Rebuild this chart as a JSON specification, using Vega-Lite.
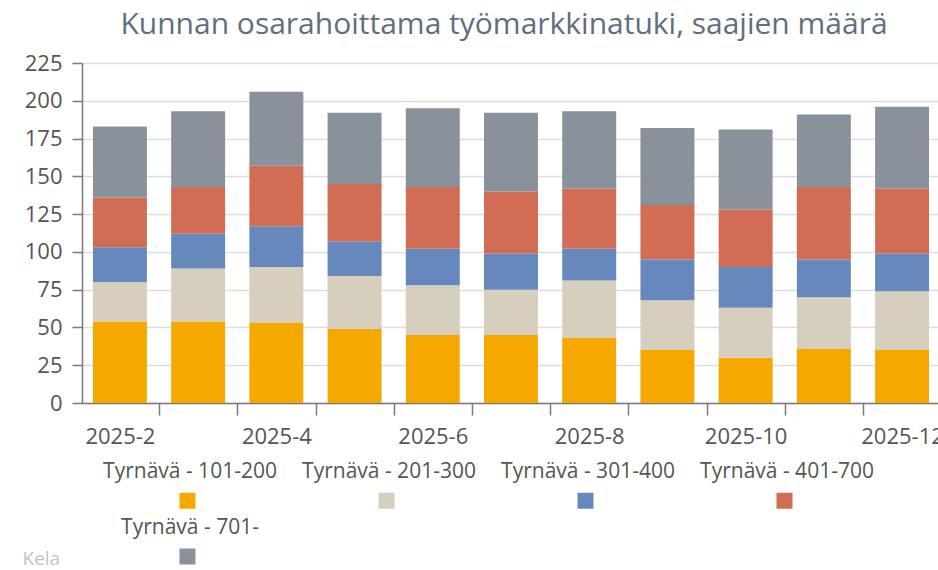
{
  "$schema": "https://vega.github.io/schema/vega-lite/v6.json",
  "autosize": "none",
  "width": 858,
  "height": 340,
  "padding": {"left": 82, "top": 63, "right": 0, "bottom": 167},
  "background": "#ffffff",
  "title": {
    "text": "Kunnan osarahoittama työmarkkinatuki, saajien määrä",
    "anchor": "middle",
    "font": "Open Sans",
    "fontSize": 30,
    "fontWeight": "normal",
    "color": "#5f6f7f",
    "offset": 12,
    "dx": -7
  },
  "config": {
    "view": {"stroke": null},
    "font": "Open Sans",
    "style": {"guide-label": {"lineHeight": 58}}
  },
  "data": {
    "values": [
      {"month": "2025-2", "series": "Tyrnävä - 101-200", "value": 54},
      {"month": "2025-2", "series": "Tyrnävä - 201-300", "value": 26},
      {"month": "2025-2", "series": "Tyrnävä - 301-400", "value": 23},
      {"month": "2025-2", "series": "Tyrnävä - 401-700", "value": 33},
      {"month": "2025-2", "series": "Tyrnävä - 701-", "value": 47},
      {"month": "2025-3", "series": "Tyrnävä - 101-200", "value": 54},
      {"month": "2025-3", "series": "Tyrnävä - 201-300", "value": 35},
      {"month": "2025-3", "series": "Tyrnävä - 301-400", "value": 23},
      {"month": "2025-3", "series": "Tyrnävä - 401-700", "value": 31},
      {"month": "2025-3", "series": "Tyrnävä - 701-", "value": 50},
      {"month": "2025-4", "series": "Tyrnävä - 101-200", "value": 53},
      {"month": "2025-4", "series": "Tyrnävä - 201-300", "value": 37},
      {"month": "2025-4", "series": "Tyrnävä - 301-400", "value": 27},
      {"month": "2025-4", "series": "Tyrnävä - 401-700", "value": 40},
      {"month": "2025-4", "series": "Tyrnävä - 701-", "value": 49},
      {"month": "2025-5", "series": "Tyrnävä - 101-200", "value": 49},
      {"month": "2025-5", "series": "Tyrnävä - 201-300", "value": 35},
      {"month": "2025-5", "series": "Tyrnävä - 301-400", "value": 23},
      {"month": "2025-5", "series": "Tyrnävä - 401-700", "value": 38},
      {"month": "2025-5", "series": "Tyrnävä - 701-", "value": 47},
      {"month": "2025-6", "series": "Tyrnävä - 101-200", "value": 45},
      {"month": "2025-6", "series": "Tyrnävä - 201-300", "value": 33},
      {"month": "2025-6", "series": "Tyrnävä - 301-400", "value": 24},
      {"month": "2025-6", "series": "Tyrnävä - 401-700", "value": 41},
      {"month": "2025-6", "series": "Tyrnävä - 701-", "value": 52},
      {"month": "2025-7", "series": "Tyrnävä - 101-200", "value": 45},
      {"month": "2025-7", "series": "Tyrnävä - 201-300", "value": 30},
      {"month": "2025-7", "series": "Tyrnävä - 301-400", "value": 24},
      {"month": "2025-7", "series": "Tyrnävä - 401-700", "value": 41},
      {"month": "2025-7", "series": "Tyrnävä - 701-", "value": 52},
      {"month": "2025-8", "series": "Tyrnävä - 101-200", "value": 43},
      {"month": "2025-8", "series": "Tyrnävä - 201-300", "value": 38},
      {"month": "2025-8", "series": "Tyrnävä - 301-400", "value": 21},
      {"month": "2025-8", "series": "Tyrnävä - 401-700", "value": 40},
      {"month": "2025-8", "series": "Tyrnävä - 701-", "value": 51},
      {"month": "2025-9", "series": "Tyrnävä - 101-200", "value": 35},
      {"month": "2025-9", "series": "Tyrnävä - 201-300", "value": 33},
      {"month": "2025-9", "series": "Tyrnävä - 301-400", "value": 27},
      {"month": "2025-9", "series": "Tyrnävä - 401-700", "value": 36},
      {"month": "2025-9", "series": "Tyrnävä - 701-", "value": 51},
      {"month": "2025-10", "series": "Tyrnävä - 101-200", "value": 30},
      {"month": "2025-10", "series": "Tyrnävä - 201-300", "value": 33},
      {"month": "2025-10", "series": "Tyrnävä - 301-400", "value": 27},
      {"month": "2025-10", "series": "Tyrnävä - 401-700", "value": 38},
      {"month": "2025-10", "series": "Tyrnävä - 701-", "value": 53},
      {"month": "2025-11", "series": "Tyrnävä - 101-200", "value": 36},
      {"month": "2025-11", "series": "Tyrnävä - 201-300", "value": 34},
      {"month": "2025-11", "series": "Tyrnävä - 301-400", "value": 25},
      {"month": "2025-11", "series": "Tyrnävä - 401-700", "value": 48},
      {"month": "2025-11", "series": "Tyrnävä - 701-", "value": 48},
      {"month": "2025-12", "series": "Tyrnävä - 101-200", "value": 35},
      {"month": "2025-12", "series": "Tyrnävä - 201-300", "value": 39},
      {"month": "2025-12", "series": "Tyrnävä - 301-400", "value": 25},
      {"month": "2025-12", "series": "Tyrnävä - 401-700", "value": 43},
      {"month": "2025-12", "series": "Tyrnävä - 701-", "value": 54}
    ]
  },
  "mark": {"type": "bar"},
  "encoding": {
    "x": {
      "field": "month",
      "type": "ordinal",
      "sort": null,
      "scale": {"paddingInner": 0.31, "paddingOuter": 0.14},
      "axis": {
        "title": "Kela",
        "titleX": -60,
        "titleY": 155,
        "titleAlign": "left",
        "titleBaseline": "middle",
        "titleFontSize": 19,
        "titleFontWeight": "normal",
        "titleColor": "#c4c4c4",
        "labelAngle": 0,
        "labelFontSize": 22,
        "labelColor": "#555555",
        "labelPadding": 11,
        "labelBaseline": "top",
        "labelExpr": "toNumber(split(datum.label, '-')[1]) % 2 == 0 ? datum.label : ''",
        "tickOffset": -39,
        "labelOffset": 39,
        "tickSize": 12,
        "tickColor": "#7a7a7a",
        "tickWidth": 1.5,
        "tickOpacity": {"condition": {"test": "datum.value == '2025-2'", "value": 0}, "value": 1},
        "domainColor": "#7a7a7a",
        "domainWidth": 1.5,
        "grid": false
      }
    },
    "y": {
      "field": "value",
      "type": "quantitative",
      "aggregate": "sum",
      "scale": {"domain": [0, 225], "nice": false},
      "axis": {
        "title": null,
        "values": [0, 25, 50, 75, 100, 125, 150, 175, 200, 225],
        "labelFontSize": 22,
        "labelColor": "#555555",
        "labelPadding": 10,
        "labelBaseline": "middle",
        "tickSize": 10,
        "tickColor": "#7a7a7a",
        "tickWidth": 1.5,
        "domainColor": "#7a7a7a",
        "domainWidth": 1.5,
        "gridColor": "#dedede",
        "gridWidth": 1.5
      }
    },
    "color": {
      "field": "series",
      "type": "nominal",
      "scale": {
        "domain": ["Tyrnävä - 101-200", "Tyrnävä - 201-300", "Tyrnävä - 301-400", "Tyrnävä - 401-700", "Tyrnävä - 701-"],
        "range": ["#f5a800", "#d6cfbe", "#6788bc", "#d16c55", "#89929b"]
      },
      "legend": {
        "orient": "none",
        "legendX": 95,
        "legendY": 427,
        "direction": "horizontal",
        "columns": 4,
        "title": null,
        "symbolType": "square",
        "symbolSize": 256,
        "symbolStrokeWidth": 0,
        "symbolOpacity": 1,
        "labelFontSize": 21,
        "labelColor": "#555555",
        "labelAlign": "center",
        "labelOffset": -8,
        "labelBaseline": "line-bottom",
        "labelLimit": 300,
        "columnPadding": 25,
        "rowPadding": 7
      }
    },
    "order": {"field": "series", "sort": "ascending"}
  }
}
